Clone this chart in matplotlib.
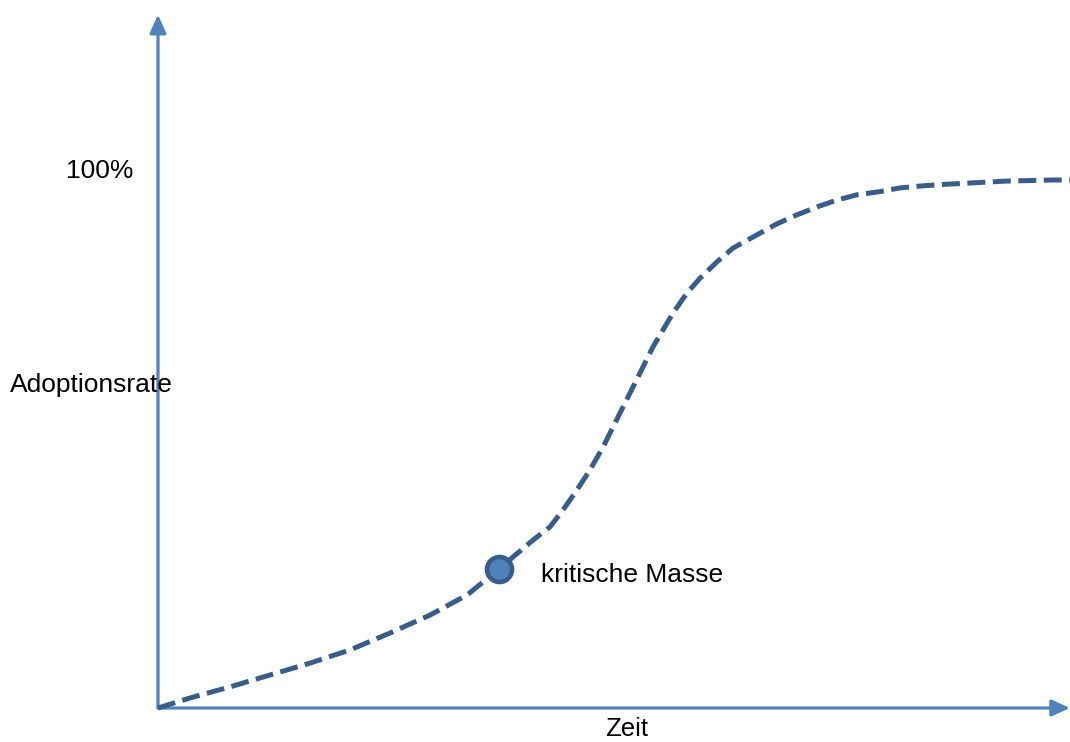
import matplotlib.pyplot as plt

plt.rcParams['font.family'] = ['Liberation Sans', 'DejaVu Sans']

# adoption curve (time units, percent)
zeit = [0, 3.2, 7.2, 11.2, 15.2, 19.2, 23.2, 27.2, 30.9, 34.1, 35.5, 37.5,
        39.2, 40.5, 41.9, 43.2, 44.5, 45.5, 46.5, 47.5, 48.5, 49.5, 50.5,
        51.5, 52.9, 54.2, 55.9, 57.5, 59.5, 61.9, 63.9, 65.9, 67.9, 69.9,
        72.2, 74.2, 76.5, 78.9, 80.9, 84.9, 89.5, 91.2]
adoption = [0, 1.9, 4.0, 6.25, 8.5, 11.0, 14.2, 17.6, 21.4, 26.3, 28.6, 31.8,
            34.3, 37.5, 41.3, 45.1, 49.4, 53.2, 57.0, 60.8, 64.6, 68.4, 71.6,
            74.8, 78.6, 81.4, 84.5, 87.1, 89.2, 91.7, 93.4, 94.9, 96.2, 97.2,
            97.8, 98.5, 98.9, 99.2, 99.4, 99.8, 100.0, 100.0]

kritisch_t = 34.1
kritisch_y = 26.3

line_color = '#385D8A'
axis_color = '#4F81BD'

fig = plt.figure(figsize=(10.70, 7.42), dpi=100)
ax = fig.add_axes([0, 0, 1, 1])
ax.set_xlim(-15.8, 91.2)
ax.set_ylim(-6.44, 134.09)
ax.axis('off')

# axes with arrow heads
arrow_style = dict(arrowstyle='-|>,head_length=1.1,head_width=0.5',
                   color=axis_color, lw=2.3, shrinkA=0, shrinkB=0)
ax.annotate('', xy=(91.2, 0), xytext=(0, 0), arrowprops=arrow_style)
ax.annotate('', xy=(0, 131.3), xytext=(0, 0), arrowprops=arrow_style)

# dashed S-curve
ax.plot(zeit, adoption, color=line_color, lw=3.6, dashes=(3.6, 1.5),
        dash_capstyle='butt', solid_joinstyle='round', zorder=3)

# critical mass marker
ax.plot([kritisch_t], [kritisch_y], marker='o', markersize=18,
        markerfacecolor=axis_color, markeredgecolor=line_color,
        markeredgewidth=3.3, linestyle='none', zorder=4)
ax.text(38.3, 25.2, 'kritische Masse', fontsize=19, ha='left', va='center')

# labels
ax.text(-5.8, 101.7, '100%', fontsize=19, ha='center', va='center')
ax.text(-14.8, 61.2, 'Adoptionsrate', fontsize=19, ha='left', va='center')
ax.text(46.9, -4.0, 'Zeit', fontsize=18.5, ha='center', va='center')

fig.savefig('out.png', dpi=100)
